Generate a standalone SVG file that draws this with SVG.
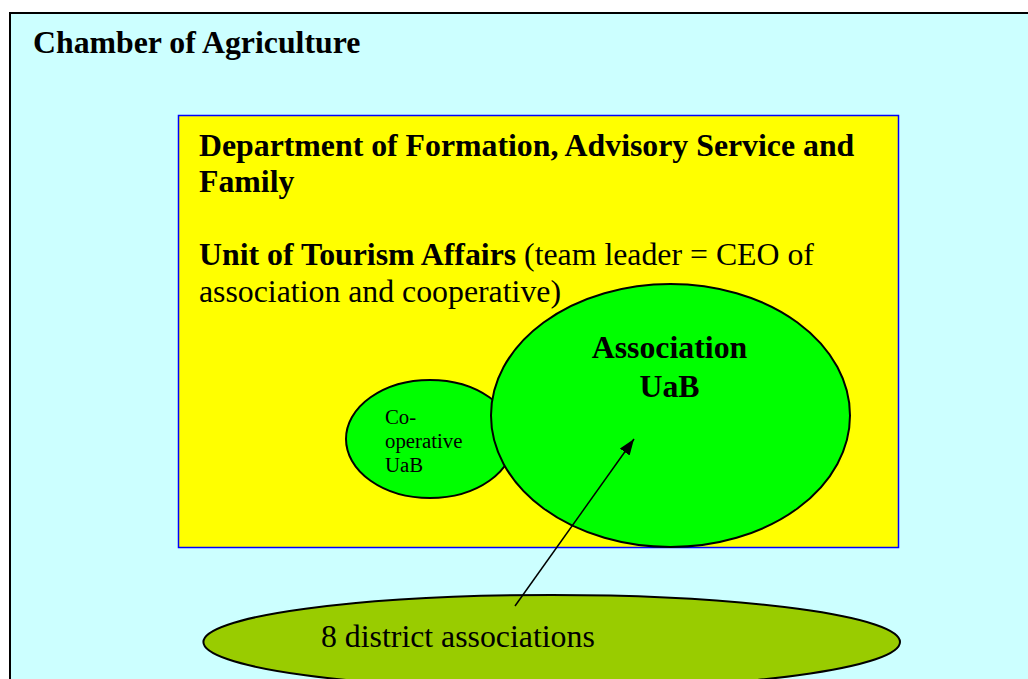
<svg xmlns="http://www.w3.org/2000/svg" width="1028" height="679" viewBox="0 0 1028 679">
<style>
.t{font-family:"Liberation Serif","Times New Roman",serif;fill:#000}
.b{font-weight:bold}
.big{font-size:31.8px}
.small{font-size:20.8px}
.ell{stroke:#000;stroke-width:2}
</style>
<defs>
<marker id="ah" viewBox="0 0 16 12" refX="16" refY="6" markerWidth="16" markerHeight="12" markerUnits="userSpaceOnUse" orient="auto">
<path d="M0,0 L16,6 L0,12 z" fill="#000"/>
</marker>
</defs>
<rect width="1028" height="679" fill="#fff"/>
<g id="chamber">
<rect x="10" y="13" width="1030" height="680" fill="#CCFFFF" stroke="#000" stroke-width="2"/>
<text class="t b big" x="33" y="53">Chamber of Agriculture</text>
</g>
<g id="department">
<rect x="178.5" y="115.5" width="720" height="432" fill="#FFFF00" stroke="#0000FF" stroke-width="1.5"/>
<text class="t b big" x="199" y="156">Department of Formation, Advisory Service and</text>
<text class="t b big" x="199" y="192">Family</text>
<text class="t big" x="199" y="265"><tspan class="b">Unit of Tourism Affairs</tspan> (team leader = CEO of</text>
<text class="t big" x="199" y="302">association and cooperative)</text>
</g>
<g id="cooperative">
<ellipse cx="430" cy="439" rx="84" ry="59" fill="#00FF00" class="ell"/>
<text class="t small" x="385" y="424">Co-</text>
<text class="t small" x="385" y="448">operative</text>
<text class="t small" x="385" y="472">UaB</text>
</g>
<g id="association">
<ellipse cx="670.5" cy="415.5" rx="179.5" ry="131.5" fill="#00FF00" class="ell"/>
<text class="t b big" x="669.5" y="358" text-anchor="middle">Association</text>
<text class="t b big" x="669.5" y="397" text-anchor="middle">UaB</text>
</g>
<g id="district">
<ellipse cx="551.7" cy="642" rx="348.3" ry="47" fill="#99CC00" class="ell"/>
<text class="t big" x="321" y="647">8 district associations</text>
</g>
<g id="connectors">
<line x1="515" y1="606" x2="634" y2="439" stroke="#000" stroke-width="1.5" marker-end="url(#ah)"/>
</g>
</svg>
